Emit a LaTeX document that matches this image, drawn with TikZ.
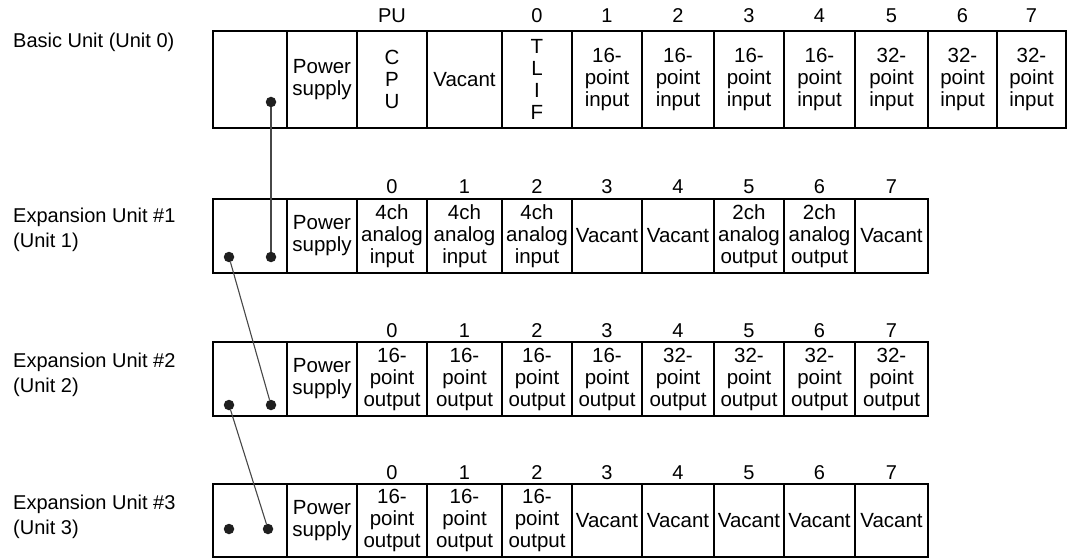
\documentclass[tikz,border=0pt]{standalone}
\usepackage{fontspec}
\setmainfont{Liberation Sans}
\newcommand\mycell[6]{%
  \pgfmathsetmacro\cw{#3-#2}\pgfmathsetmacro\chh{#5-#4}%
  \node[cell, minimum width=\cw pt, minimum height=\chh pt] (#1) at ({(#2+#3)/2},{(#4+#5)/2}) {#6};}
\begin{document}
\begin{tikzpicture}[x=1pt,y=-1pt,
  cell/.style={draw=black, line width=2.8pt, inner sep=0pt, align=center, font=\fontsize{20.5}{22}\selectfont},
  idx/.style={font=\fontsize{20}{22}\selectfont, inner sep=0pt},
  unitlbl/.style={font=\fontsize{20}{25}\selectfont, align=left, anchor=north west, inner sep=0pt},
  dot/.style={circle, fill=black!88, inner sep=0pt, minimum size=10.5pt},
  link/.style={draw=black!72, line width=1.1pt}]
\useasboundingbox (0,0) rectangle (1069,559);

% ---- unit labels
\node[unitlbl] (l0) at (13,32.5) {Basic Unit (Unit 0)};
\node[unitlbl] (l1) at (13,207.5) {Expansion Unit \#1\\(Unit 1)};
\node[unitlbl] (l2) at (13,352.5) {Expansion Unit \#2\\(Unit 2)};
\node[unitlbl] (l3) at (13,494.5) {Expansion Unit \#3\\(Unit 3)};

% ---- Unit 0
\mycell{a0}{213}{287}{31}{128}{}
\mycell{a1}{287}{357}{31}{128}{Power\\supply}
\mycell{a2}{357}{427}{31}{128}{C\\P\\U}
\mycell{a3}{427}{502}{31}{128}{Vacant}
\mycell{a4}{502}{572}{31}{128}{T\\L\\I\\F}
\mycell{a5}{572}{642}{31}{128}{16-\\point\\input}
\mycell{a6}{642}{714}{31}{128}{16-\\point\\input}
\mycell{a7}{714}{784}{31}{128}{16-\\point\\input}
\mycell{a8}{784}{855}{31}{128}{16-\\point\\input}
\mycell{a9}{855}{928}{31}{128}{32-\\point\\input}
\mycell{a10}{928}{997}{31}{128}{32-\\point\\input}
\mycell{a11}{997}{1066}{31}{128}{32-\\point\\input}
\node[idx] (na2) at (392,16) {PU};
\foreach \c/\t in {4/0,5/1,6/2,7/3,8/4,9/5,10/6,11/7}
  \node[idx] (na\c) at (a\c.north |- 0,16) {\t};

% ---- Unit 1
\mycell{b0}{213}{287}{199}{273}{}
\mycell{b1}{287}{357}{199}{273}{Power\\supply}
\mycell{b2}{357}{427}{199}{273}{4ch\\analog\\input}
\mycell{b3}{427}{502}{199}{273}{4ch\\analog\\input}
\mycell{b4}{502}{572}{199}{273}{4ch\\analog\\input}
\mycell{b5}{572}{642}{199}{273}{Vacant}
\mycell{b6}{642}{714}{199}{273}{Vacant}
\mycell{b7}{714}{784}{199}{273}{2ch\\analog\\output}
\mycell{b8}{784}{855}{199}{273}{2ch\\analog\\output}
\mycell{b9}{855}{928}{199}{273}{Vacant}
\foreach \c/\t in {2/0,3/1,4/2,5/3,6/4,7/5,8/6,9/7}
  \node[idx] (nb\c) at (b\c.north |- 0,187) {\t};

% ---- Unit 2
\mycell{c0}{213}{287}{342}{416}{}
\mycell{c1}{287}{357}{342}{416}{Power\\supply}
\mycell{c2}{357}{427}{342}{416}{16-\\point\\output}
\mycell{c3}{427}{502}{342}{416}{16-\\point\\output}
\mycell{c4}{502}{572}{342}{416}{16-\\point\\output}
\mycell{c5}{572}{642}{342}{416}{16-\\point\\output}
\mycell{c6}{642}{714}{342}{416}{32-\\point\\output}
\mycell{c7}{714}{784}{342}{416}{32-\\point\\output}
\mycell{c8}{784}{855}{342}{416}{32-\\point\\output}
\mycell{c9}{855}{928}{342}{416}{32-\\point\\output}
\foreach \c/\t in {2/0,3/1,4/2,5/3,6/4,7/5,8/6,9/7}
  \node[idx] (nc\c) at (c\c.north |- 0,331) {\t};

% ---- Unit 3
\mycell{d0}{213}{287}{484}{557}{}
\mycell{d1}{287}{357}{484}{557}{Power\\supply}
\mycell{d2}{357}{427}{484}{557}{16-\\point\\output}
\mycell{d3}{427}{502}{484}{557}{16-\\point\\output}
\mycell{d4}{502}{572}{484}{557}{16-\\point\\output}
\mycell{d5}{572}{642}{484}{557}{Vacant}
\mycell{d6}{642}{714}{484}{557}{Vacant}
\mycell{d7}{714}{784}{484}{557}{Vacant}
\mycell{d8}{784}{855}{484}{557}{Vacant}
\mycell{d9}{855}{928}{484}{557}{Vacant}
\foreach \c/\t in {2/0,3/1,4/2,5/3,6/4,7/5,8/6,9/7}
  \node[idx] (nd\c) at (d\c.north |- 0,473) {\t};

% ---- connector dots
\node[dot] (p0) at (271,102) {};
\node[dot] (p1l) at (229,257) {};
\node[dot] (p1r) at (271,257) {};
\node[dot] (p2l) at (229,405) {};
\node[dot] (p2r) at (271,405) {};
\node[dot] (p3l) at (229,529) {};
\node[dot] (p3r) at (268,529) {};

\draw[link] (p0) -- (p1r);
\draw[link] (p1l) -- (p2r);
\draw[link] (p2l) -- (p3r);
\end{tikzpicture}
\end{document}
